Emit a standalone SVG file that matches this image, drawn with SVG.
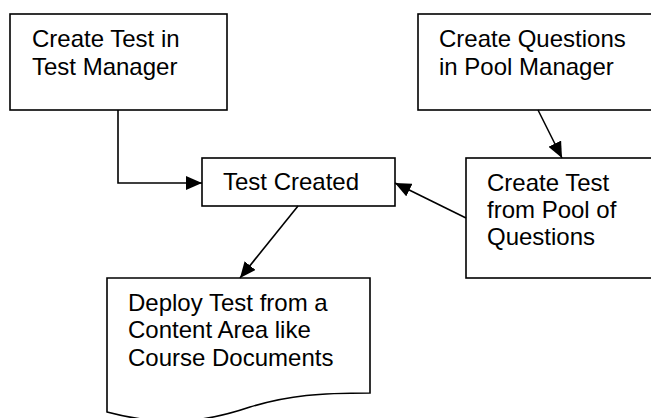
<svg xmlns="http://www.w3.org/2000/svg" width="651" height="418" viewBox="0 0 651 418">
<defs>
<style>
.box{fill:#fff;stroke:#000;stroke-width:1.6}
.t{font-family:"Liberation Sans",Arial,sans-serif;font-size:24px;fill:#000}
.c{fill:none;stroke:#000;stroke-width:1.6}
</style>
<marker id="ah" markerUnits="userSpaceOnUse" markerWidth="18" markerHeight="14" refX="16" refY="7" orient="auto">
<path d="M0,0 L16,7 L0,14 z" fill="#000"/>
</marker>
</defs>
<rect width="651" height="418" fill="#fff"/>
<g id="n1">
<rect class="box" x="10" y="14" width="217" height="96"/>
<text class="t" x="32" y="47">Create Test in</text>
<text class="t" x="32" y="74.5">Test Manager</text>
</g>
<g id="n2">
<rect class="box" x="418" y="14" width="250" height="96"/>
<text class="t" x="439" y="47">Create Questions</text>
<text class="t" x="439" y="74.5">in Pool Manager</text>
</g>
<g id="n3">
<rect class="box" x="202" y="158" width="193" height="48"/>
<text class="t" x="223" y="190">Test Created</text>
</g>
<g id="n4">
<rect class="box" x="466" y="158" width="200" height="120"/>
<text class="t" x="487" y="191">Create Test</text>
<text class="t" x="487" y="218">from Pool of</text>
<text class="t" x="487" y="245">Questions</text>
</g>
<g id="n5">
<path class="box" d="M107,278 L370,278 L370,393 C320,393 290,395 250,407 C200,424 160,426 107,412 Z"/>
<text class="t" x="128" y="310.5">Deploy Test from a</text>
<text class="t" x="128" y="338">Content Area like</text>
<text class="t" x="128" y="365.5">Course Documents</text>
</g>
<g id="connectors">
<path class="c" d="M118,110 L118,183 L202,183" marker-end="url(#ah)"/>
<path class="c" d="M538,110 L562,158" marker-end="url(#ah)"/>
<path class="c" d="M466,218 L395,183" marker-end="url(#ah)"/>
<path class="c" d="M298,206 L240,278" marker-end="url(#ah)"/>
</g>
</svg>
